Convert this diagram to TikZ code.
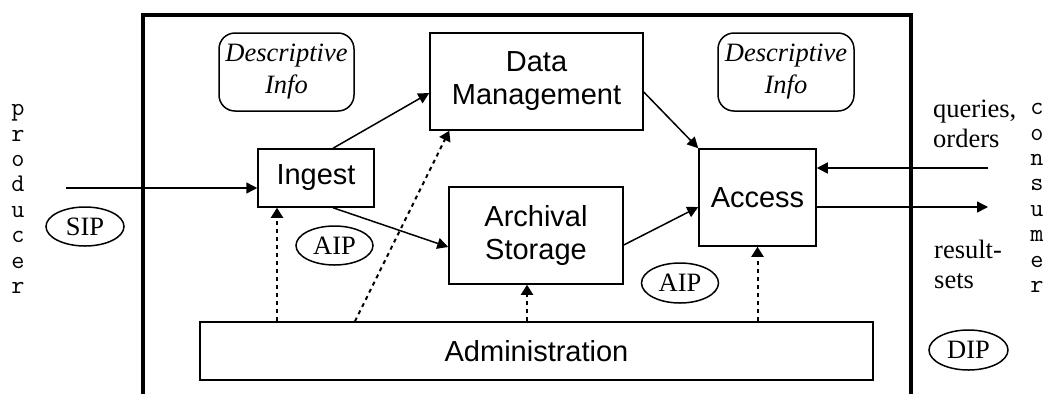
\documentclass[tikz,border=0pt]{standalone}
\usepackage{fontspec}
\setmainfont{Liberation Serif}
\setsansfont{Liberation Sans}
\usetikzlibrary{arrows.meta,shapes.geometric,calc}
\begin{document}
\begin{tikzpicture}[x=1bp,y=-1bp,
  box/.style={draw, line width=1.5bp, font=\sffamily\fontsize{29bp}{33bp}\selectfont, align=center, inner sep=0pt},
  desc/.style={draw, line width=1.5bp, rounded corners=16bp, font=\itshape\fontsize{26.5bp}{32bp}\selectfont, align=center, inner sep=0pt},
  ell/.style={draw, ellipse, line width=1.5bp, inner sep=0pt, font=\fontsize{26.5bp}{30bp}\selectfont},
  lab/.style={font=\fontsize{26.5bp}{30bp}\selectfont, align=left, inner sep=0pt},
  mono/.style={font=\ttfamily\fontsize{25.5bp}{25.4bp}\selectfont, align=center, inner sep=0pt},
  conn/.style={line width=1.5bp, -{Triangle[length=11bp,width=11bp]}},
  dotconn/.style={line width=2bp, dash pattern=on 4bp off 4bp, -{Triangle[length=10bp,width=12bp]}},
  frame/.style={line width=4bp}
]
\useasboundingbox (0,0) rectangle (1061,394);
\draw[frame] (143,394) -- (143,15) -- (911,15) -- (911,394);

\node[box, minimum width=213bp, minimum height=97bp] (dm) at (536.5,81.5) {Data\\Management};
\node[box, minimum width=116bp, minimum height=58bp] (ingest) at (316,178) {Ingest};
\node[box, minimum width=174bp, minimum height=97bp] (arch) at (536,235.5) {Archival\\Storage};
\node[box, minimum width=117bp, minimum height=97bp] (access) at (757.5,197.5) {Access};
\node[box, minimum width=673bp, minimum height=58bp] (admin) at (536.5,351) {Administration};

\node[desc, minimum width=135bp, minimum height=78bp] (d1) at (286.5,72) {Descriptive\\Info};
\node[desc, minimum width=136bp, minimum height=78bp] (d2) at (786,72) {Descriptive\\Info};

\node[ell, minimum width=78bp, minimum height=39bp] (sip) at (85,226.5) {SIP};
\node[ell, minimum width=77bp, minimum height=39bp] (aip1) at (334.5,245.5) {AIP};
\node[ell, minimum width=77bp, minimum height=40bp] (aip2) at (680,283) {AIP};
\node[ell, minimum width=79bp, minimum height=40bp] (dip) at (968.5,350) {DIP};

\node[lab, anchor=west] (qo) at (933,124) {queries,\\orders};
\node[lab, anchor=west] (rs) at (934,264) {result-\\sets};

\node[mono] (prod) at (18,199) {p\\r\\o\\d\\u\\c\\e\\r};
\node[mono] (cons) at (1037,198) {c\\o\\n\\s\\u\\m\\e\\r};

\coordinate (pin) at (66,188);
\coordinate (qin) at (988,168);
\coordinate (rout) at (988,207);
\coordinate (ig) at ($(ingest.south)+(-39,0)$);
\coordinate (ag) at ($(arch.south)+(-9,0)$);

\draw[conn] (pin) -- (pin -| ingest.west);
\draw[conn] ($(ingest.north)+(17,0)$) -- ($(dm.west)+(0,11.5)$);
\draw[conn] ($(ingest.south)+(17,0)$) -- ($(arch.west)+(0,11.5)$);
\draw[conn] ($(dm.east)+(0,10.5)$) -- (access.north west);
\draw[conn] ($(arch.east)+(0,9.5)$) -- ($(access.west)+(0,9.5)$);
\draw[conn] (qin) -- (qin -| access.east);
\draw[conn] (rout -| access.east) -- (rout);

\draw[dotconn] (ig |- admin.north) -- (ig);
\draw[dotconn] ($(admin.north)+(-181.5,0)$) -- ($(dm.south west)+(20,0)$);
\draw[dotconn] (ag |- admin.north) -- (ag);
\draw[dotconn] (access.south |- admin.north) -- (access.south);
\end{tikzpicture}
\end{document}
